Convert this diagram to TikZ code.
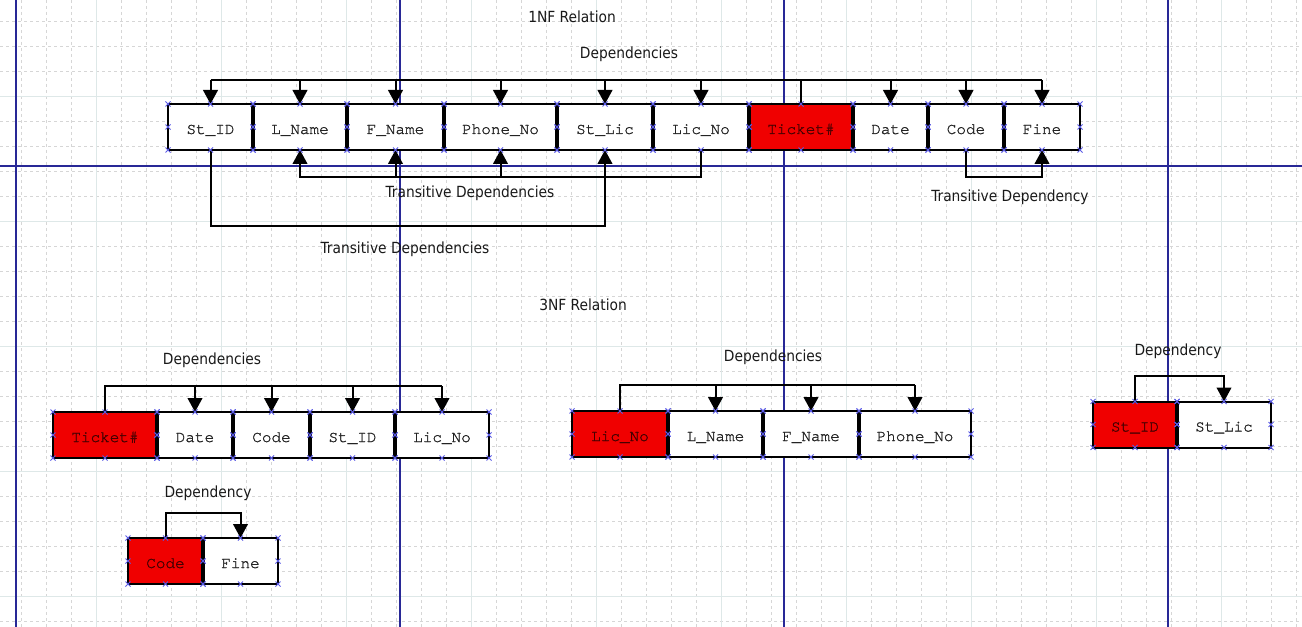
\documentclass[tikz,border=0pt]{standalone}
\usepackage{fontspec}
\usetikzlibrary{arrows.meta,positioning}
\newfontfamily\labelfont{DejaVu Sans Condensed}
\newfontfamily\boxfont[FakeBold=1.2]{TeX Gyre Cursor}
\definecolor{gridgray}{RGB}{214,214,214}
\definecolor{majorgray}{RGB}{222,232,232}
\definecolor{guideblue}{RGB}{40,40,150}
\definecolor{handleblue}{RGB}{90,90,230}
\definecolor{keyred}{RGB}{240,0,0}
\definecolor{keytext}{RGB}{70,0,0}
\definecolor{attrtext}{RGB}{35,35,35}

\begin{document}
\begin{tikzpicture}[x=0.75pt, y=-0.75pt,
    attr/.style={draw, line width=1.5pt, fill=white, text=attrtext,
      font=\boxfont\fontsize{12}{14}\selectfont,
      minimum height=34.5pt, inner sep=0pt, outer sep=0pt,
      text height=10.5pt, text depth=0pt},
    key/.style={attr, fill=keyred, text=keytext},
    bw/.style={minimum width=#1*0.75pt},
    lbl/.style={font=\labelfont\fontsize{11.5}{13}\selectfont, text=black!90, inner sep=0pt},
    link/.style={line width=1.5pt},
    dep/.style={line width=1.5pt, -{Triangle[width=11pt,length=10.5pt]}},
    junction/.style={line width=3pt},
    handle/.style={handleblue, line width=0.6pt},
    minorgrid/.style={gridgray, line width=0.75pt, dash pattern=on 2.25pt off 2.25pt},
    majorgrid/.style={majorgray, line width=0.9pt},
    guide/.style={guideblue, line width=0.8pt}]
  \useasboundingbox[fill=white] (0,0) rectangle (1302,627);

  % background grid of the editor
  \foreach \i in {0,...,51}
    \draw[minorgrid] (21.7+25*\i,0) -- (21.7+25*\i,627);
  \foreach \i in {0,...,24}
    \draw[minorgrid] (0,21.7+25*\i) -- (1302,21.7+25*\i);
  \foreach \i in {0,...,9}
    \draw[majorgrid] (96.7+125*\i,0) -- (96.7+125*\i,627);
  \foreach \i in {0,...,4}
    \draw[majorgrid] (0,96.7+125*\i) -- (1302,96.7+125*\i);
  \foreach \i in {16,400,784,1168}
    \draw[guide] (\i,0) -- (\i,627);
  \draw[guide] (0,166) -- (1302,166);

  % 1NF relation
  \node[lbl] (title1) at (572,17) {1NF Relation};
  \node[attr, bw=85] (stid) at (210.5,127) {St\_ID};
  \node[attr, bw=94, right=0pt of stid] (lname) {L\_Name};
  \node[attr, bw=97, right=0pt of lname] (fname) {F\_Name};
  \node[attr, bw=113, right=0pt of fname] (phone) {Phone\_No};
  \node[attr, bw=96, right=0pt of phone] (stlic) {St\_Lic};
  \node[attr, bw=96, right=0pt of stlic] (licno) {Lic\_No};
  \node[key, bw=104, right=0pt of licno] (ticket) {Ticket\#};
  \node[attr, bw=75, right=0pt of ticket] (date) {Date};
  \node[attr, bw=76, right=0pt of date] (code) {Code};
  \node[attr, bw=76, right=0pt of code] (fine) {Fine};

  \node[lbl] (deps1) at (629,54) {Dependencies};
  \coordinate (depbar) at (0,80);
  \draw[link] (ticket.north) -- (ticket.north |- depbar);
  \draw[link] (stid.north |- depbar) -- (fine.north |- depbar);
  \foreach \b in {stid,lname,fname,phone,stlic,licno,date,code,fine}
    \draw[dep] (\b.north |- depbar) -- (\b.north);

  \coordinate (transbar) at (0,177);
  \draw[dep] (licno.south) -- (licno.south |- transbar) -| (lname.south);
  \draw[dep] (fname.south |- transbar) -- (fname.south);
  \draw[dep] (phone.south |- transbar) -- (phone.south);
  \node[lbl] (trans1) at (470,193) {Transitive Dependencies};

  \coordinate (longbar) at (0,226);
  \draw[dep] (stid.south) -- (stid.south |- longbar) -| (stlic.south);
  \node[lbl] (trans2) at (405,249) {Transitive Dependencies};

  \draw[dep] (code.south) -- (code.south |- transbar) -| (fine.south);
  \node[lbl] (trans3) at (1010,197) {Transitive Dependency};

  % 3NF relations
  \node[lbl] (title3) at (583,305) {3NF Relation};

  \node[key, bw=104] (aticket) at (105,435) {Ticket\#};
  \node[attr, bw=76, right=0pt of aticket] (adate) {Date};
  \node[attr, bw=77, right=0pt of adate] (acode) {Code};
  \node[attr, bw=85, right=0pt of acode] (astid) {St\_ID};
  \node[attr, bw=94, right=0pt of astid] (alicno) {Lic\_No};
  \node[lbl] (depsa) at (212,360) {Dependencies};
  \coordinate (abar) at (0,386);
  \draw[link] (aticket.north) -- (aticket.north |- abar) -- (alicno.north |- abar);
  \foreach \b in {adate,acode,astid,alicno}
    \draw[dep] (\b.north |- abar) -- (\b.north);

  \node[key, bw=96] (blicno) at (620,434) {Lic\_No};
  \node[attr, bw=95, right=0pt of blicno] (blname) {L\_Name};
  \node[attr, bw=96, right=0pt of blname] (bfname) {F\_Name};
  \node[attr, bw=112, right=0pt of bfname] (bphone) {Phone\_No};
  \node[lbl] (depsb) at (773,357) {Dependencies};
  \coordinate (bbar) at (0,385);
  \draw[link] (blicno.north) -- (blicno.north |- bbar) -- (bphone.north |- bbar);
  \foreach \b in {blname,bfname,bphone}
    \draw[dep] (\b.north |- bbar) -- (\b.north);

  \node[key, bw=84] (cstid) at (1135,424.5) {St\_ID};
  \node[attr, bw=94, right=0pt of cstid] (cstlic) {St\_Lic};
  \node[lbl] (depc) at (1178,351) {Dependency};
  \coordinate (cbar) at (0,376);
  \draw[dep] (cstid.north) -- (cstid.north |- cbar) -| (cstlic.north);

  \node[key, bw=75] (dcode) at (165.5,561) {Code};
  \node[attr, bw=75, right=0pt of dcode] (dfine) {Fine};
  \node[lbl] (depd) at (208,493) {Dependency};
  \coordinate (dbar) at (0,513);
  \draw[dep] (dcode.north) -- (dcode.north |- dbar) -| (dfine.north);

  % joints between cells
  \foreach \b in {lname,fname,phone,stlic,licno,ticket,date,code,fine,
                  adate,acode,astid,alicno,blname,bfname,bphone,cstlic,dfine}
    \draw[junction] (\b.north west) -- (\b.south west);

  % selection handles
  \foreach \b in {stid,lname,fname,phone,stlic,licno,ticket,date,code,fine,
                  aticket,adate,acode,astid,alicno,blicno,blname,bfname,bphone,
                  cstid,cstlic,dcode,dfine}
    \foreach \a in {north west,north,north east,east,south east,south,south west,west}
      \draw[handle] (\b.\a) +(-2.5,-2.5) -- +(2.5,2.5) +(-2.5,2.5) -- +(2.5,-2.5);
\end{tikzpicture}
\end{document}
